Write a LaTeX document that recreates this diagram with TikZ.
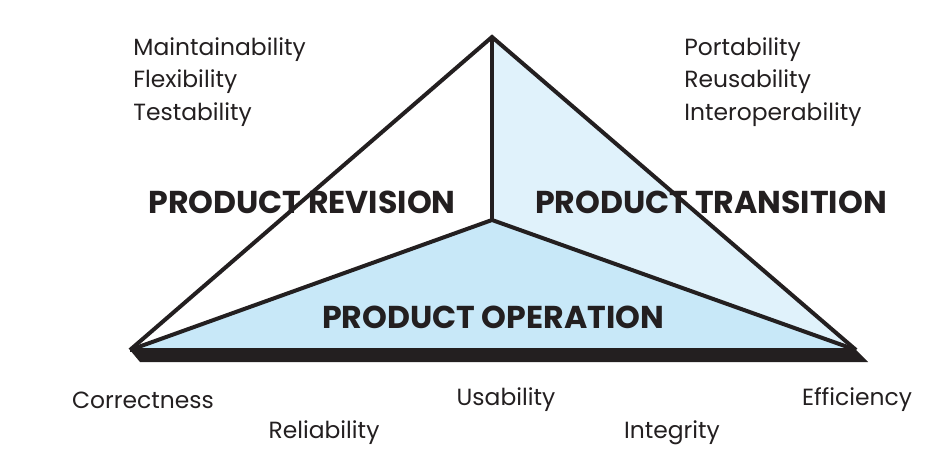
\documentclass[tikz,border=0pt]{standalone}
\usepackage{fontspec}
\setmainfont{Poppins}
\usepackage{xcolor}
\definecolor{operation}{RGB}{200,232,248}
\definecolor{transition}{RGB}{224,242,251}
\definecolor{ink}{RGB}{35,31,32}
\tikzstyle{edge}=[line width=2pt, color=ink, line join=miter]
\tikzstyle{factor}=[font=\fontsize{11.7}{16.3}\selectfont, text=ink, inner sep=0pt]
\tikzstyle{group}=[font=\fontsize{15.8}{18}\selectfont\bfseries, text=ink, inner sep=0pt]

\begin{document}
\begin{tikzpicture}[x=0.5pt, y=-0.5pt]
  \useasboundingbox (0,0) rectangle (952,460);
  %% corners
  \coordinate (top) at (492,37);
  \coordinate (left) at (130,350);
  \coordinate (right) at (856,350);
  \coordinate (mid) at (492,220);

  %% shadow under the base
  \fill[ink] (left) -- (right) -- (868,362) -- (140,362) -- cycle;

  %% faces
  \fill[transition] (top) -- (right) -- (mid) -- cycle;
  \fill[operation] (left) -- (mid) -- (right) -- cycle;

  %% outline
  \draw[edge] (left) -- (top) -- (right);
  \draw[edge] (top) -- (mid);
  \draw[edge] (left) -- (mid) -- (right);
  \draw[edge] (left) -- (right);

  %% group names
  \draw (302,202) node[group] (revision) {PRODUCT REVISION};
  \draw (711,202) node[group] (transit) {PRODUCT TRANSITION};
  \draw (493,317) node[group] (operate) {PRODUCT OPERATION};

  %% quality factors
  \draw (133,37) node[factor, anchor=north west, align=left] (revlist) {Maintainability\\Flexibility\\Testability};
  \draw (684,37) node[factor, anchor=north west, align=left] (translist) {Portability\\Reusability\\Interoperability};

  \draw (143,400) node[factor] (correct) {Correctness};
  \draw (324,433) node[factor] (reliable) {Reliability};
  \draw (506,400) node[factor] (usable) {Usability};
  \draw (672,433) node[factor] (integrity) {Integrity};
  \draw (857,400) node[factor] (efficient) {Efficiency};
\end{tikzpicture}
\end{document}
